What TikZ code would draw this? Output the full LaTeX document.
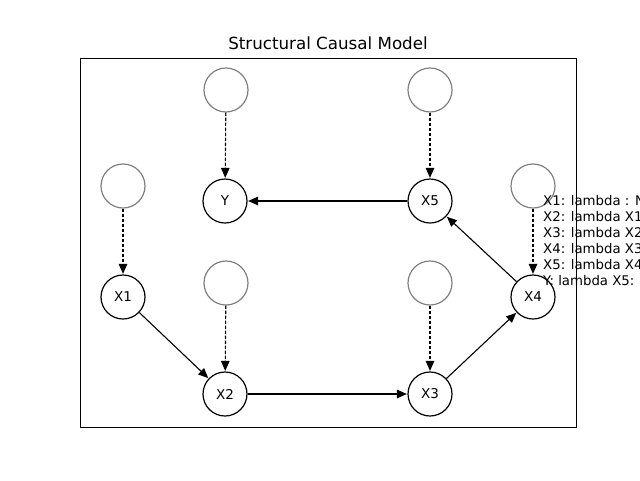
\documentclass[tikz,border=0pt]{standalone}
\usepackage{fontspec}
\setmainfont{DejaVu Sans}
\usetikzlibrary{arrows.meta}
\tikzset{
  var/.style={circle, draw=black, line width=1.2pt, minimum size=44pt, inner sep=0pt, font=\fontsize{13.5}{16}\selectfont},
  noise/.style={circle, draw=gray, line width=1.2pt, minimum size=44pt, inner sep=0pt},
  edge/.style={-{Triangle[length=10pt,width=8.5pt]}, line width=1.1pt, black, shorten >=0.5pt},
  nedge/.style={edge, dashed, dash pattern=on 3.5pt off 1.5pt},
}
\begin{document}
\begin{tikzpicture}[x=1pt,y=-1pt]
\useasboundingbox (0,0) rectangle (640,480);
\clip (0,0) rectangle (640,480);
\node[font=\fontsize{16.7}{20}\selectfont] (title) at (328,43) {Structural Causal Model};
\draw[line width=1pt] (80,58) rectangle (576,427);
% variables
\node[var] (X1) at (123,297) {X1};
\node[var] (X2) at (225,394) {X2};
\node[var] (X3) at (430,394) {X3};
\node[var] (X4) at (533,297) {X4};
\node[var] (X5) at (430,201) {X5};
\node[var] (Y)  at (225,201) {Y};
% noise
\node[noise] (U1) at (123,186) {};
\node[noise] (UY) at (226,90) {};
\node[noise] (U5) at (430,90) {};
\node[noise] (U4) at (533,186) {};
\node[noise] (U2) at (226,283) {};
\node[noise] (U3) at (430,283) {};
% edges
\draw[edge] (X1) -- (X2);
\draw[edge] (X2) -- (X3);
\draw[edge] (X3) -- (X4);
\draw[edge] (X4) -- (X5);
\draw[edge] (X5) -- (Y);
\draw[nedge] (U1) -- (X1);
\draw[nedge] (UY) -- (Y);
\draw[nedge] (U5) -- (X5);
\draw[nedge] (U4) -- (X4);
\draw[nedge] (U2) -- (X2);
\draw[nedge] (U3) -- (X3);
% equations
\node[anchor=north west, inner sep=0pt, align=left, font=\fontsize{13.3}{15.85}\selectfont] (eqs) at (543,195.5)
{X1: lambda : N\\X2: lambda X1\\X3: lambda X2\\X4: lambda X3\\X5: lambda X4\\Y: lambda X5:};
\end{tikzpicture}
\end{document}
